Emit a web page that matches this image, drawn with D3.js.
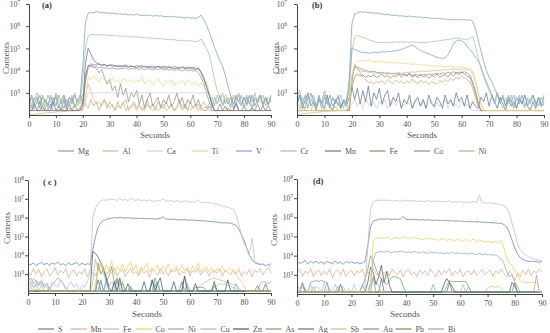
<!DOCTYPE html>
<html>
<head>
<meta charset="utf-8">
<script src="https://cdn.jsdelivr.net/npm/d3@7"></script>
<style>
body{margin:0;background:#fff;}
svg{display:block;font-family:"Liberation Serif","Times New Roman",serif;}
</style>
</head>
<body>
<svg id="chart" width="550" height="333"></svg>
<script>
'use strict'

// log10 of the counts, one value per second (0..90 s)
var aMg = [2.4,2.9,2.5,2.8,2.3,2.9,2.6,2.4,2.9,2.5,
	2.8,2.3,2.7,2.9,2.4,2.8,2.5,2.9,2.6,2.8,
	4.2,6.2,6.58,6.62,6.6,6.66,6.63,6.6,6.62,6.58,
	6.6,6.56,6.58,6.54,6.56,6.53,6.55,6.5,6.53,6.5,
	6.54,6.5,6.48,6.51,6.47,6.5,6.45,6.48,6.46,6.47,
	6.44,6.43,6.45,6.42,6.44,6.4,6.42,6.39,6.37,6.4,
	6.36,6.38,6.35,6.4,6.5,6.3,6.05,5.75,5.4,5.05,
	4.75,4.45,4.2,3.8,3.3,2.9,2.5,2.8,2.6,2.9,
	2.3,2.8,2.5,2.9,2.4,2.7,2.9,2.5,2.8,2.4,
	2.9];
var aCr = [2.6,2.3,2.8,2.5,2.9,2.4,2.7,2.3,2.8,2.6,
	2.9,2.5,2.3,2.8,2.6,2.4,2.9,2.3,2.7,2.5,
	3.6,5.0,5.55,5.62,5.64,5.6,5.63,5.6,5.62,5.58,
	5.6,5.57,5.59,5.55,5.57,5.54,5.56,5.52,5.55,5.51,
	5.53,5.5,5.48,5.5,5.46,5.48,5.45,5.47,5.43,5.45,
	5.42,5.4,5.42,5.38,5.4,5.36,5.37,5.34,5.36,5.33,
	5.35,5.32,5.3,5.33,5.42,5.2,5.0,4.75,4.2,3.6,
	3.1,2.8,2.5,2.9,2.6,2.3,2.8,2.5,2.9,2.4,
	2.7,2.9,2.5,2.3,2.8,2.6,2.9,2.4,2.7,2.5,
	2.8];
var aMn = [2.2,2.2,2.5,2.2,2.2,2.4,2.2,2.2,2.2,2.6,
	2.2,2.2,2.3,2.2,2.2,2.5,2.2,2.2,2.2,2.3,
	2.6,4.3,5.0,4.75,4.5,4.35,4.3,4.25,4.28,4.22,
	4.25,4.2,4.23,4.18,4.22,4.19,4.2,4.15,4.2,4.17,
	4.14,4.18,4.15,4.2,4.13,4.16,4.12,4.15,4.18,4.12,
	4.14,4.1,4.15,4.12,4.08,4.12,4.1,4.14,4.08,4.1,
	4.12,4.08,4.05,4.1,3.9,3.6,3.3,2.9,2.5,2.2,
	2.2,2.2,2.2,2.4,2.2,2.2,2.2,2.5,2.2,2.2,
	2.2,2.2,2.2,2.3,2.2,2.2,2.2,2.4,2.2,2.2,
	2.2];
var aFe = [2.2,2.2,2.2,2.2,2.2,2.2,2.2,2.2,2.2,2.2,
	2.2,2.2,2.2,2.2,2.2,2.2,2.2,2.2,2.2,2.2,
	2.4,3.8,4.2,4.3,4.28,4.25,4.3,4.22,4.27,4.2,
	4.24,4.26,4.2,4.23,4.18,4.22,4.25,4.19,4.21,4.17,
	4.22,4.2,4.23,4.16,4.2,4.18,4.22,4.15,4.19,4.17,
	4.2,4.16,4.19,4.14,4.18,4.15,4.12,4.17,4.14,4.16,
	4.13,4.15,4.1,4.12,3.95,3.7,3.3,2.9,2.5,2.2,
	2.2,2.2,2.2,2.2,2.2,2.2,2.2,2.2,2.2,2.2,
	2.2,2.2,2.2,2.2,2.2,2.2,2.2,2.2,2.2,2.2,
	2.2];
var aV = [2.5,2.8,2.3,2.6,2.9,2.4,2.7,2.5,2.3,2.8,
	2.4,2.9,2.6,2.3,2.7,2.5,2.8,2.4,2.6,2.9,
	2.5,3.6,4.25,4.2,4.15,4.18,4.12,4.15,4.1,4.13,
	4.08,4.12,4.1,4.06,4.11,4.08,4.13,4.05,4.1,4.07,
	4.12,4.06,4.09,4.04,4.1,4.07,4.03,4.08,4.05,4.1,
	4.04,4.07,4.02,4.06,4.0,4.05,4.02,3.98,4.04,4.0,
	4.03,3.98,4.0,3.9,3.7,3.4,3.0,2.6,2.3,2.8,
	2.5,2.9,2.4,2.7,2.5,2.8,2.3,2.9,2.6,2.4,
	2.8,2.5,2.9,2.3,2.7,2.6,2.9,2.4,2.8,2.5,
	2.7];
var aCo = [2.2,2.4,2.2,2.2,2.6,2.2,2.3,2.2,2.5,2.2,
	2.2,2.4,2.2,2.7,2.2,2.3,2.2,2.5,2.2,2.2,
	2.4,3.5,4.1,4.25,4.2,4.1,3.9,4.05,3.7,3.4,
	3.6,3.1,3.3,2.8,3.4,2.9,3.2,2.6,3.0,2.8,
	3.1,2.5,2.9,2.3,2.7,3.0,2.4,2.6,2.8,2.3,
	2.7,2.5,2.9,2.4,2.6,3.0,2.5,2.8,2.3,2.7,
	2.5,2.9,2.4,2.7,2.3,2.2,2.2,2.4,2.2,2.2,
	2.2,2.5,2.2,2.2,2.3,2.2,2.2,2.6,2.2,2.2,
	2.4,2.2,2.2,2.3,2.2,2.5,2.2,2.2,2.2,2.4,
	2.2];
var aTi = [2.2,2.2,2.2,2.2,2.2,2.2,2.2,2.2,2.2,2.2,
	2.2,2.2,2.2,2.2,2.2,2.2,2.2,2.2,2.2,2.2,
	2.2,2.8,3.7,3.6,3.75,3.65,3.5,3.7,3.6,3.55,
	3.45,3.7,3.5,3.6,3.4,3.65,3.55,3.5,3.6,3.45,
	3.55,3.5,3.75,3.4,3.55,3.6,3.35,3.5,3.65,3.4,
	3.3,3.55,3.45,3.6,3.3,3.5,3.4,3.55,3.35,3.6,
	3.45,3.4,3.5,3.3,3.45,3.3,3.5,3.1,2.4,2.2,
	2.2,2.2,2.2,2.2,2.2,2.2,2.2,2.2,2.2,2.2,
	2.2,2.2,2.2,2.2,2.2,2.2,2.2,2.2,2.2,2.2,
	2.2];
var aCa = [2.2,2.2,2.2,2.2,2.2,2.2,2.2,2.2,2.2,2.2,
	2.2,2.2,2.2,2.2,2.2,2.2,2.2,2.2,2.2,2.2,
	2.2,2.6,3.0,3.0,2.99,3.0,3.01,3.0,2.99,3.0,
	3.0,2.99,3.0,3.01,3.0,3.0,2.99,3.0,3.0,3.01,
	3.0,2.99,3.0,3.0,3.01,3.0,2.99,3.0,3.0,3.0,
	3.01,3.0,2.99,3.0,3.0,3.0,3.01,3.0,2.99,3.0,
	3.0,3.0,2.99,3.0,3.0,3.01,3.0,2.99,2.6,2.2,
	2.2,2.2,2.2,2.2,2.2,2.2,2.2,2.2,2.2,2.2,
	2.2,2.2,2.2,2.2,2.2,2.2,2.2,2.2,2.2,2.2,
	2.2];
var aAl = [2.0,2.02,2.03,2.05,2.06,2.07,2.09,2.1,2.11,2.12,
	2.13,2.14,2.15,2.16,2.17,2.18,2.19,2.2,2.21,2.22,
	2.25,2.9,3.4,3.1,2.7,2.5,2.6,2.4,2.7,2.5,
	2.3,2.5,2.2,2.4,2.3,2.6,2.2,2.4,2.3,2.5,
	2.2,2.4,2.3,2.2,2.5,2.3,2.2,2.4,2.2,2.3,
	2.5,2.2,2.3,2.4,2.2,2.3,2.5,2.2,2.4,2.3,
	2.2,2.4,2.3,2.5,2.2,2.3,2.4,2.2,2.2,2.2,
	2.2,2.2,2.2,2.2,2.2,2.2,2.2,2.2,2.2,2.2,
	2.2,2.2,2.2,2.2,2.2,2.2,2.2,2.2,2.2,2.2,
	2.2];
var aNi = [2.9,2.4,2.7,3.0,2.5,2.8,2.3,2.9,2.6,2.4,
	3.0,2.7,2.5,2.9,2.3,2.8,2.6,3.0,2.4,2.7,
	2.9,2.5,2.3,2.7,2.4,2.6,2.2,2.5,2.7,2.3,
	2.6,2.4,2.2,2.6,2.3,2.5,2.7,2.2,2.4,2.6,
	2.3,2.5,2.2,2.4,2.7,2.3,2.5,2.2,2.6,2.4,
	2.3,2.6,2.3,2.5,2.2,2.4,2.7,2.3,2.5,2.2,
	2.6,2.3,2.5,2.2,2.4,2.6,2.3,2.5,2.8,2.4,
	2.9,2.6,3.0,2.5,2.8,2.4,2.9,2.7,3.0,2.5,
	2.8,2.4,2.9,2.6,3.0,2.5,2.7,2.9,2.4,2.8,
	2.6];

var bMg = [2.4,2.9,2.5,2.3,2.8,2.6,2.9,2.4,2.7,2.3,
	2.8,2.5,2.9,2.4,2.6,2.8,2.3,2.7,2.5,3.6,
	6.1,6.55,6.62,6.65,6.63,6.64,6.6,6.62,6.58,6.6,
	6.56,6.55,6.52,6.54,6.5,6.48,6.5,6.46,6.47,6.45,
	6.44,6.46,6.42,6.43,6.4,6.42,6.38,6.4,6.37,6.36,
	6.35,6.36,6.33,6.34,6.32,6.3,6.31,6.28,6.3,6.29,
	6.28,6.3,6.27,6.29,6.22,5.9,5.4,4.9,4.4,4.0,
	3.7,3.5,3.2,2.9,2.6,2.9,2.4,2.8,2.6,2.9,
	2.3,2.8,2.5,2.9,2.4,2.7,2.9,2.5,2.8,2.4,
	2.9];
var bCr = [2.6,2.3,2.8,2.5,2.9,2.4,2.7,2.3,2.8,2.6,
	2.9,2.5,2.3,2.8,2.6,2.4,2.9,2.3,2.7,3.0,
	4.8,5.5,5.6,5.55,5.5,5.45,5.4,5.35,5.3,5.28,
	5.26,5.27,5.25,5.28,5.26,5.3,5.27,5.29,5.3,5.28,
	5.3,5.27,5.3,5.28,5.26,5.25,5.27,5.25,5.28,5.3,
	5.32,5.33,5.35,5.37,5.38,5.4,5.42,5.45,5.47,5.45,
	5.43,5.4,5.38,5.45,5.55,5.1,4.6,4.1,3.7,3.4,
	3.1,2.8,2.5,2.9,2.6,2.3,2.8,2.5,2.9,2.4,
	2.7,2.9,2.5,2.3,2.8,2.6,2.9,2.4,2.7,2.5,
	2.8];
var bV = [2.8,3.1,2.5,2.9,2.3,3.0,2.6,2.4,2.9,2.5,
	3.1,2.7,2.3,2.8,2.5,2.9,2.4,2.7,2.6,3.2,
	5.05,4.95,4.9,4.85,4.8,4.82,4.78,4.8,4.83,4.8,
	4.82,4.85,4.83,4.87,4.85,4.88,4.9,4.92,4.95,5.0,
	5.05,5.1,5.15,5.08,4.98,4.9,4.85,4.8,4.75,4.7,
	4.65,4.6,4.57,4.55,4.58,4.7,4.95,5.2,5.35,5.38,
	5.33,5.25,5.1,4.95,4.8,4.6,4.45,4.2,3.8,3.5,
	3.2,2.9,2.6,3.0,2.5,2.8,2.4,2.9,2.6,2.3,
	2.8,2.5,2.9,2.4,2.7,2.5,2.9,2.6,2.4,2.8,
	2.5];
var bTi = [2.2,2.2,2.2,2.2,2.2,2.2,2.2,2.2,2.2,2.2,
	2.2,2.2,2.2,2.2,2.2,2.2,2.2,2.2,2.2,2.5,
	3.8,4.3,4.42,4.45,4.44,4.43,4.45,4.42,4.4,4.41,
	4.4,4.38,4.39,4.37,4.36,4.35,4.36,4.33,4.34,4.32,
	4.31,4.3,4.28,4.3,4.27,4.26,4.25,4.27,4.24,4.22,
	4.2,4.22,4.19,4.2,4.18,4.17,4.19,4.16,4.18,4.15,
	4.16,4.14,4.12,4.1,4.0,3.6,3.0,2.5,2.2,2.2,
	2.2,2.2,2.2,2.2,2.2,2.2,2.2,2.2,2.2,2.2,
	2.2,2.2,2.2,2.2,2.2,2.2,2.2,2.2,2.2,2.2,
	2.2];
var bAl = [2.0,2.03,2.05,2.06,2.08,2.1,2.1,2.12,2.13,2.15,
	2.15,2.17,2.18,2.18,2.2,2.2,2.21,2.22,2.22,2.4,
	3.7,4.15,4.05,4.0,3.95,3.97,3.9,3.93,3.88,3.9,
	3.87,3.9,3.85,3.88,3.9,3.86,3.89,3.92,3.88,3.9,
	3.93,3.9,3.95,3.92,3.96,3.94,3.98,3.95,4.0,3.97,
	4.0,4.02,3.98,4.03,4.05,4.02,4.06,4.08,4.05,4.07,
	4.05,4.08,4.04,4.02,3.9,3.5,3.0,2.5,2.2,2.2,
	2.2,2.2,2.2,2.2,2.2,2.2,2.2,2.2,2.2,2.2,
	2.2,2.2,2.2,2.2,2.2,2.2,2.2,2.2,2.2,2.2,
	2.2];
var bCo = [2.2,2.2,2.2,2.2,2.2,2.2,2.2,2.2,2.2,2.2,
	2.2,2.2,2.2,2.2,2.2,2.2,2.2,2.2,2.2,2.2,
	3.6,4.2,4.15,4.1,4.05,4.0,3.98,3.95,3.97,3.92,
	3.9,3.93,3.88,3.9,3.85,3.87,3.84,3.86,3.82,3.85,
	3.8,3.83,3.78,3.82,3.8,3.78,3.82,3.8,3.85,3.82,
	3.85,3.88,3.84,3.9,3.87,3.92,3.88,3.95,3.9,3.93,
	3.9,3.95,3.88,3.8,3.5,3.1,2.6,2.2,2.2,2.2,
	2.2,2.2,2.2,2.2,2.2,2.2,2.2,2.2,2.2,2.2,
	2.2,2.2,2.2,2.2,2.2,2.2,2.2,2.2,2.2,2.2,
	2.2];
var bFe = [2.2,2.2,2.2,2.2,2.2,2.2,2.2,2.2,2.2,2.2,
	2.2,2.2,2.2,2.2,2.2,2.2,2.2,2.2,2.2,2.2,
	3.3,3.7,3.85,3.75,3.8,3.7,3.78,3.72,3.82,3.68,
	3.75,3.85,3.7,3.8,3.65,3.78,3.72,3.86,3.7,3.82,
	3.75,3.9,3.7,3.8,3.68,3.84,3.72,3.78,3.65,3.8,
	3.72,3.85,3.7,3.78,3.82,3.7,3.88,3.75,3.9,3.8,
	3.95,3.85,3.75,3.7,3.4,3.0,2.5,2.2,2.2,2.2,
	2.2,2.2,2.2,2.2,2.2,2.2,2.2,2.2,2.2,2.2,
	2.2,2.2,2.2,2.2,2.2,2.2,2.2,2.2,2.2,2.2,
	2.2];
var bNi = [2.2,2.2,2.4,2.2,2.2,2.2,2.5,2.2,2.2,2.2,
	2.3,2.2,2.2,2.2,2.4,2.2,2.2,2.2,2.2,2.3,
	3.5,4.3,4.1,3.9,3.7,3.6,3.45,3.5,3.4,3.5,
	3.45,3.55,3.4,3.6,3.5,3.42,3.58,3.45,3.52,3.4,
	3.55,3.45,3.62,3.5,3.4,3.57,3.46,3.52,3.38,3.5,
	3.45,3.4,3.55,3.48,3.6,3.5,3.65,3.55,3.7,3.62,
	3.75,3.68,3.6,3.5,3.2,2.8,2.4,2.2,2.2,2.2,
	2.2,2.2,2.2,2.2,2.2,2.2,2.2,2.2,2.2,2.2,
	2.2,2.2,2.2,2.2,2.2,2.2,2.2,2.2,2.2,2.2,
	2.2];
var bMn = [2.5,2.9,2.3,2.7,3.0,2.4,2.6,2.2,2.8,2.5,
	2.3,2.9,2.4,2.2,2.7,2.5,2.3,2.6,2.4,2.8,
	3.3,2.7,3.2,2.5,3.1,2.6,3.3,2.4,3.0,2.7,
	3.2,2.5,2.9,3.1,2.4,2.8,2.6,3.0,2.3,2.7,
	2.5,2.9,2.3,2.6,2.8,2.4,2.7,2.3,2.9,2.5,
	2.4,2.8,2.6,2.3,2.9,2.5,2.7,2.4,3.0,2.6,
	2.8,2.4,2.9,2.3,2.6,2.4,2.3,2.8,2.6,3.0,
	2.4,2.9,2.6,2.3,2.8,2.5,2.2,2.7,2.4,2.6,
	2.3,2.7,2.5,2.9,2.4,2.2,2.6,2.3,2.8,2.4,
	2.5];
var bCa = [2.2,2.2,2.2,2.2,2.2,2.2,2.2,2.2,2.2,2.2,
	2.2,2.2,2.2,2.2,2.2,2.2,2.2,2.2,2.2,2.2,
	2.5,2.7,2.4,2.6,2.3,2.7,2.5,2.4,2.6,2.3,
	2.6,2.4,2.7,2.3,2.5,2.6,2.4,2.7,2.3,2.5,
	2.4,2.6,2.3,2.7,2.5,2.4,2.6,2.3,2.5,2.7,
	2.3,2.6,2.4,2.5,2.7,2.3,2.6,2.4,2.5,2.3,
	2.6,2.4,2.5,2.3,2.2,2.2,2.2,2.2,2.2,2.2,
	2.2,2.2,2.2,2.2,2.2,2.2,2.2,2.2,2.2,2.2,
	2.2,2.2,2.2,2.2,2.2,2.2,2.2,2.2,2.2,2.2,
	2.2];

var cFe = [2.5,2.3,2.8,2.6,2.4,2.7,2.3,2.5,2.1,2.6,
	2.4,2.3,2.7,2.5,2.1,2.4,2.6,2.3,2.5,2.1,
	2.4,2.3,2.6,3.0,6.0,6.5,6.8,6.9,6.95,6.92,
	7.0,6.95,6.98,6.9,7.02,6.93,6.97,6.9,7.03,6.95,
	6.92,6.96,6.9,6.94,6.88,6.95,6.9,6.85,6.93,6.88,
	7.0,6.9,6.87,6.92,6.85,6.9,6.86,6.83,6.9,6.85,
	6.82,6.86,6.8,6.95,6.82,6.78,6.83,6.76,6.8,6.74,
	6.72,6.68,6.62,6.58,6.55,6.5,6.45,6.2,5.7,5.1,
	4.6,4.4,4.1,4.9,3.7,3.6,3.55,3.5,3.45,3.5,
	3.4];
var cS = [3.55,3.5,3.6,3.45,3.55,3.62,3.5,3.58,3.48,3.6,
	3.52,3.65,3.5,3.56,3.45,3.6,3.5,3.55,3.62,3.48,
	3.58,3.5,3.55,3.52,4.3,5.0,5.5,5.75,5.85,5.9,
	5.95,5.97,6.0,5.98,6.02,5.99,5.97,6.0,5.98,5.96,
	5.98,5.95,5.97,5.94,5.96,5.93,5.95,5.92,5.94,5.96,
	6.05,5.92,5.93,5.9,5.92,5.89,5.9,5.88,5.9,5.87,
	5.88,5.86,5.87,5.84,5.85,5.82,5.83,5.8,5.8,5.78,
	5.76,5.75,5.72,5.74,5.7,5.72,5.65,5.6,5.4,5.1,
	4.8,4.4,4.0,3.75,3.6,3.55,3.5,3.55,3.45,3.5,
	3.55];
var cMn = [3.2,2.9,3.3,3.0,3.25,2.85,3.15,3.3,2.9,3.1,
	3.35,2.95,3.2,3.05,3.3,2.8,3.1,3.25,2.9,3.15,
	3.0,3.3,2.85,3.2,3.1,2.9,3.25,3.0,3.35,2.95,
	3.2,3.05,3.3,2.9,3.15,3.25,2.85,3.1,3.3,3.0,
	3.15,2.9,3.3,3.05,3.2,2.85,3.25,3.1,2.95,3.3,
	3.0,3.2,2.9,3.25,3.1,3.3,2.95,3.15,3.05,3.3,
	2.9,3.2,3.1,3.3,2.95,3.15,3.25,2.9,3.1,3.2,
	3.05,3.3,2.9,3.2,3.1,2.95,3.25,3.0,3.3,2.9,
	3.15,3.0,3.25,2.85,3.2,3.1,3.3,2.95,3.2,3.35,
	3.05];
var cCo = [2.1,2.1,2.1,2.2,2.1,2.1,2.1,2.1,2.1,2.1,
	2.1,2.1,2.1,2.1,2.1,2.1,2.1,2.1,2.1,2.1,
	2.1,2.1,2.1,2.1,2.1,2.5,3.3,3.6,3.1,3.5,
	3.2,3.7,3.0,3.4,3.2,3.55,3.1,3.45,3.65,3.2,
	3.5,3.0,3.4,3.25,3.6,3.1,3.35,3.2,3.5,3.05,
	3.4,3.25,3.55,3.1,3.3,3.45,3.15,3.5,3.2,3.35,
	3.05,3.45,3.2,3.6,3.1,3.3,3.4,3.15,3.35,3.05,
	3.3,3.2,3.45,3.1,3.25,3.3,3.1,3.0,2.8,2.6,
	2.4,2.1,2.1,2.1,2.1,2.1,2.1,2.1,2.1,2.1,
	2.1];
var cZn = [2.1,2.1,2.1,2.1,2.1,2.1,2.1,2.1,2.1,2.1,
	2.1,2.1,2.1,2.1,2.1,2.1,2.1,2.1,2.1,2.1,
	2.1,2.1,2.1,2.1,4.2,4.1,3.9,3.6,3.3,2.8,
	2.3,2.1,2.6,2.1,2.8,2.1,2.1,2.5,2.1,2.1,
	2.1,2.1,2.1,2.6,2.1,2.1,2.7,2.1,2.5,2.8,
	2.1,2.1,2.1,2.1,2.6,2.1,2.1,2.1,2.9,2.1,
	2.1,2.1,2.5,2.1,2.1,2.1,2.1,2.1,2.1,2.6,
	2.1,2.1,2.1,2.1,2.7,2.1,2.1,2.1,2.1,2.1,
	2.1,2.1,2.1,2.1,2.1,2.1,2.1,2.1,2.1,2.1,
	2.1];
var cCu = [2.1,2.3,2.1,2.5,2.1,2.4,2.1,2.1,2.3,2.1,
	2.1,2.1,2.1,2.1,2.1,2.1,2.1,2.1,2.1,2.1,
	2.1,2.1,2.1,2.1,2.6,3.8,3.2,3.6,3.0,2.7,
	2.4,2.6,2.3,2.8,2.1,2.5,2.1,2.1,2.4,2.1,
	2.1,2.1,2.1,2.1,2.1,2.1,2.1,2.4,2.1,2.1,
	2.1,2.1,2.1,2.1,2.1,2.1,2.1,2.1,2.1,2.1,
	2.1,2.1,2.1,2.3,2.4,2.5,2.6,2.7,2.75,2.8,
	2.75,2.7,2.65,2.6,2.55,2.5,2.45,2.4,2.3,2.1,
	2.1,2.1,2.1,2.1,2.1,2.1,2.1,2.1,2.1,2.1,
	2.1];
var cAs = [2.1,2.1,2.1,2.1,2.1,2.1,2.1,2.1,2.1,2.1,
	2.1,2.1,2.1,2.1,2.1,2.1,2.1,2.1,2.1,2.1,
	2.1,2.1,2.1,2.1,2.1,2.1,3.6,3.0,3.3,2.6,
	2.9,3.4,2.5,2.8,2.4,2.6,2.1,2.1,2.3,2.1,
	2.1,2.1,2.1,2.1,2.1,2.1,2.6,2.5,2.1,2.1,
	2.1,2.1,2.1,2.1,2.1,2.1,2.1,2.1,2.1,2.1,
	2.1,2.1,2.1,2.1,2.1,2.1,2.1,2.1,2.1,2.4,
	2.1,2.1,2.1,2.1,2.1,2.1,2.1,2.1,2.1,2.1,
	2.1,2.1,2.1,2.1,2.1,2.1,2.1,2.1,2.1,2.1,
	2.1];
var cNi = [2.4,2.6,2.3,2.5,2.6,2.4,2.5,2.3,2.1,2.1,
	2.1,2.1,2.1,2.1,2.1,2.1,2.1,2.1,2.1,2.1,
	2.1,2.1,2.1,2.1,2.1,2.1,2.1,2.6,2.1,2.7,
	2.1,2.1,2.5,2.1,2.1,2.1,2.1,2.1,2.1,2.1,
	2.1,2.1,2.1,2.1,2.1,2.1,2.7,2.3,2.6,2.1,
	2.1,2.1,2.1,2.1,2.1,2.1,2.1,2.1,2.1,2.5,
	2.1,2.1,2.1,2.1,2.1,2.1,2.1,2.1,2.1,2.1,
	2.1,2.1,2.1,2.1,2.1,2.1,2.1,2.5,2.1,2.1,
	2.1,2.1,2.1,2.1,2.1,2.1,2.1,2.1,2.1,2.1,
	2.1];
var cAg = [2.1,2.1,2.1,2.1,2.1,2.1,2.1,2.1,2.1,2.1,
	2.1,2.1,2.1,2.1,2.1,2.1,2.1,2.1,2.1,2.1,
	2.1,2.1,2.1,2.1,2.1,2.1,2.7,2.1,2.1,2.1,
	2.1,2.1,2.1,2.7,2.1,2.1,2.1,2.1,2.1,2.1,
	2.1,2.1,2.1,2.1,2.1,2.1,2.1,2.1,2.1,2.1,
	2.1,2.1,2.1,2.1,2.1,2.1,2.1,2.6,2.1,2.1,
	2.1,2.1,2.1,2.1,2.1,2.1,2.1,2.1,2.1,2.1,
	2.1,2.1,2.1,2.1,2.1,2.1,2.1,2.1,2.1,2.1,
	2.1,2.1,2.1,2.1,2.1,2.1,2.1,2.1,2.5,2.1,
	2.1];
var cSb = [2.1,2.1,2.1,2.1,2.1,2.1,2.1,2.1,2.1,2.1,
	2.1,2.1,2.1,2.1,2.1,2.1,2.1,2.1,2.1,2.1,
	2.1,2.1,2.1,2.1,2.1,2.1,2.1,2.1,2.1,2.1,
	2.1,2.1,2.1,2.1,2.1,2.1,2.1,2.1,2.1,2.1,
	2.1,2.1,2.1,2.1,2.1,2.1,2.1,2.1,2.1,2.1,
	2.1,2.1,2.1,2.1,2.1,2.1,2.1,2.1,2.1,2.1,
	2.1,2.1,2.1,2.1,2.1,2.1,2.1,2.1,2.2,2.3,
	2.4,2.5,2.45,2.5,2.4,2.35,2.3,2.2,2.1,2.1,
	2.1,2.1,2.1,2.1,2.1,2.1,2.1,2.1,2.1,2.1,
	2.1];
var cAu = [2.1,2.1,2.1,2.1,2.1,2.1,2.1,2.1,2.1,2.1,
	2.1,2.1,2.1,2.1,2.1,2.1,2.1,2.1,2.1,2.1,
	2.1,2.1,2.1,2.1,2.1,2.1,2.1,2.7,2.1,2.6,
	2.1,2.1,2.1,2.1,2.1,2.1,2.1,2.1,2.1,2.1,
	2.1,2.1,2.1,2.1,2.1,2.1,2.1,2.8,2.4,2.1,
	2.1,2.1,2.1,2.1,2.1,2.1,2.1,2.1,2.9,2.3,
	2.1,2.1,2.1,2.1,2.1,2.1,2.1,2.1,2.1,2.1,
	2.1,2.1,2.1,2.1,2.1,2.1,2.1,2.1,2.1,2.1,
	2.1,2.1,2.1,2.1,2.1,2.1,2.1,2.1,2.1,2.1,
	2.1];
var cPb = [2.1,2.1,2.1,2.1,2.1,2.1,2.1,2.1,2.1,2.1,
	2.1,2.1,2.1,2.1,2.1,2.1,2.1,2.1,2.1,2.1,
	2.1,2.1,2.1,2.1,2.1,2.1,2.1,2.1,2.1,2.1,
	2.1,2.1,2.1,2.1,2.1,2.1,2.1,2.1,2.1,2.1,
	2.1,2.1,2.1,2.1,2.1,2.1,2.1,2.1,2.1,2.1,
	2.1,2.1,2.1,2.1,2.1,2.1,2.1,2.1,2.1,2.1,
	2.1,2.1,2.3,2.3,2.3,2.3,2.1,2.1,2.1,2.1,
	2.1,2.1,2.1,2.1,2.1,2.1,2.1,2.1,2.1,2.1,
	2.1,2.1,2.1,2.1,2.1,2.4,2.1,2.1,2.1,2.1,
	2.1];
var cBi = [2.6,2.8,2.5,2.7,2.4,2.6,2.3,2.5,2.2,2.4,
	2.6,2.8,2.7,2.5,2.3,2.1,2.1,2.1,2.1,2.1,
	2.1,2.1,2.1,2.1,2.1,2.1,2.1,2.1,2.1,2.1,
	2.1,2.1,2.1,2.1,2.1,2.1,2.1,2.1,2.1,2.1,
	2.1,2.1,2.1,2.1,2.1,2.1,2.1,2.1,2.1,2.1,
	2.1,2.1,2.1,2.1,2.1,2.1,2.1,2.1,2.1,2.1,
	2.1,2.1,2.1,2.1,2.1,2.1,2.1,2.1,2.1,2.1,
	2.1,2.1,2.1,2.1,2.1,2.1,2.1,2.1,2.1,2.1,
	2.1,2.1,2.1,2.1,2.1,2.1,2.5,2.6,2.6,2.5,
	2.6];

var dFe = [2.4,2.1,2.6,2.3,2.1,2.5,2.1,2.4,2.3,2.1,
	2.6,2.1,2.3,2.1,2.5,2.1,2.1,2.4,2.1,2.3,
	2.1,2.5,2.1,2.1,2.4,2.3,4.5,6.4,6.82,6.87,
	6.9,6.88,6.92,6.86,6.9,6.84,6.89,6.86,6.83,6.91,
	6.86,6.88,6.84,6.9,6.82,6.86,6.84,6.81,6.88,6.83,
	6.86,6.82,6.85,6.8,6.84,6.81,6.86,6.78,6.83,6.8,
	6.82,6.78,6.81,6.76,6.8,6.84,6.76,7.15,6.78,6.76,
	6.74,6.76,6.71,6.73,6.68,6.65,6.6,6.5,6.2,5.7,
	5.2,4.6,4.3,4.15,4.05,3.95,3.88,3.82,3.8,3.76,
	3.73];
var dS = [3.7,3.6,3.65,3.75,3.58,3.7,3.62,3.72,3.6,3.68,
	3.55,3.7,3.64,3.58,3.72,3.6,3.66,3.55,3.7,3.62,
	3.68,3.6,3.65,3.58,3.62,3.7,4.5,5.5,5.8,5.85,
	5.9,5.92,5.9,5.93,5.9,5.88,5.91,5.89,5.92,6.05,
	5.9,5.88,5.9,5.87,5.89,5.86,5.88,5.85,5.87,5.86,
	5.84,5.86,5.83,5.85,5.82,5.84,5.81,5.83,5.8,5.82,
	5.79,5.8,5.78,5.79,5.76,5.78,5.75,5.77,5.74,5.75,
	5.72,5.73,5.7,5.72,5.68,5.7,5.62,5.5,5.2,4.8,
	4.4,4.1,3.9,3.8,3.75,3.7,3.72,3.68,3.7,3.65,
	3.7];
var dMn = [3.1,3.3,2.9,3.2,3.05,3.35,2.9,3.15,3.25,2.95,
	3.2,3.0,3.3,2.85,3.15,3.25,3.0,3.3,2.9,3.1,
	3.25,2.95,3.2,3.1,3.3,2.9,3.15,3.0,3.3,3.1,
	2.9,3.25,3.05,3.2,2.95,3.3,3.1,3.0,3.25,2.9,
	3.2,3.3,3.0,3.15,2.9,3.25,3.05,3.2,2.95,3.3,
	3.1,2.9,3.25,3.0,3.2,3.1,3.35,2.95,3.2,3.05,
	3.3,2.9,3.15,3.2,3.0,3.25,2.95,3.1,3.3,3.0,
	3.15,3.25,2.9,3.2,3.05,3.3,3.1,2.9,3.2,3.0,
	2.7,3.1,2.9,3.25,3.0,3.3,2.95,3.2,3.1,3.3,
	3.15];
var dCo = [2.1,2.1,2.1,2.1,2.1,2.1,2.1,2.1,2.1,2.1,
	2.1,2.1,2.1,2.1,2.1,2.1,2.1,2.1,2.1,2.1,
	2.1,2.1,2.1,2.1,2.1,2.1,2.1,2.4,4.8,4.95,
	4.9,4.95,4.88,4.97,4.9,4.85,4.95,4.92,4.88,5.0,
	4.9,4.95,4.85,5.0,4.88,4.92,4.82,4.9,4.86,4.93,
	4.84,4.88,4.8,4.85,4.9,4.78,4.86,4.82,4.75,4.88,
	4.8,4.76,4.85,4.72,4.8,4.88,4.7,4.82,4.78,4.7,
	4.75,4.72,4.68,4.78,4.65,4.8,4.4,3.9,3.6,3.5,
	3.2,3.0,2.7,2.6,2.6,2.6,2.6,2.6,2.6,2.1,
	2.1];
var dNi = [2.1,2.1,2.5,2.1,2.1,2.1,2.4,2.1,2.1,2.1,
	2.1,2.6,2.1,2.1,2.1,2.4,2.1,2.1,2.1,2.1,
	2.1,2.1,2.1,2.1,2.5,2.1,2.1,2.6,3.8,4.15,
	4.2,4.22,4.18,4.25,4.2,4.15,4.22,4.18,4.24,4.2,
	4.17,4.2,4.15,4.22,4.18,4.14,4.2,4.16,4.12,4.2,
	4.15,4.18,4.12,4.16,4.1,4.15,4.12,4.18,4.1,4.14,
	4.12,4.1,4.15,4.08,4.12,4.1,4.06,4.12,4.05,4.1,
	4.04,4.06,4.02,4.05,3.95,3.85,3.6,3.2,2.9,3.0,
	2.6,2.4,2.1,2.1,2.1,2.1,2.1,2.1,2.1,2.1,
	2.1];
var dZn = [2.1,2.1,2.6,2.1,2.1,2.1,2.1,2.1,2.1,2.1,
	2.1,2.1,2.1,2.1,2.1,2.1,2.5,2.1,2.1,2.1,
	2.1,2.1,2.1,2.1,2.1,2.1,2.6,3.4,3.1,2.5,
	2.9,3.5,2.6,3.2,2.4,2.1,2.1,2.1,2.1,2.1,
	2.1,2.1,2.1,2.1,2.1,2.1,2.1,2.1,2.1,2.1,
	2.1,2.1,2.1,2.1,2.5,2.8,2.6,2.4,2.1,2.1,
	2.1,2.1,2.1,2.1,2.1,2.1,2.1,2.1,2.1,2.1,
	2.1,2.1,2.1,2.1,2.1,2.1,2.1,2.1,2.1,2.6,
	2.4,2.1,2.1,2.1,2.1,2.1,2.1,2.1,2.1,2.1,
	2.1];
var dAs = [2.1,2.1,2.1,2.1,2.1,2.1,2.1,2.1,2.1,2.1,
	2.1,2.1,2.1,2.1,2.1,2.1,2.1,2.1,2.1,2.1,
	2.1,2.1,2.1,2.1,2.4,2.8,3.3,4.0,3.7,3.3,
	3.0,2.8,2.6,2.5,2.7,2.9,2.9,2.85,2.8,2.4,
	2.1,2.1,2.1,2.1,2.1,2.1,2.1,2.1,2.1,2.1,
	2.1,2.1,2.1,2.1,2.1,2.4,2.7,2.65,2.65,2.65,
	2.65,2.65,2.65,2.4,2.1,2.1,2.1,2.1,2.1,2.1,
	2.1,2.1,2.1,2.1,2.1,2.1,2.1,2.1,2.1,2.1,
	2.1,2.1,2.1,2.1,2.1,2.1,2.1,2.1,2.1,2.1,
	2.1];
var dCu = [2.1,2.1,2.1,2.1,2.1,2.1,2.1,2.1,2.1,2.1,
	2.1,2.1,2.1,2.1,2.1,2.1,2.1,2.1,2.1,2.1,
	2.1,2.1,2.1,2.1,2.1,2.1,2.1,2.5,2.9,2.6,
	2.4,2.1,2.1,2.1,2.1,2.1,2.1,2.1,2.1,2.1,
	2.1,2.1,2.1,2.1,2.1,2.1,2.1,2.1,2.1,2.1,
	2.1,2.1,2.1,2.1,2.1,2.1,2.1,2.1,2.1,2.1,
	2.1,2.5,2.1,2.4,2.1,2.1,2.1,2.1,2.1,2.1,
	2.1,2.1,2.1,2.1,2.1,2.1,2.1,2.1,2.1,2.1,
	2.1,2.1,2.1,2.1,2.1,2.1,2.1,2.1,2.1,2.1,
	2.1];
var dAg = [2.1,2.1,2.1,2.1,2.1,2.1,2.1,2.1,2.1,2.1,
	2.1,2.1,2.1,2.1,2.1,2.1,2.1,2.1,2.1,2.1,
	2.1,2.1,2.1,2.1,2.1,2.1,2.1,2.1,2.1,2.1,
	2.1,2.8,2.1,2.1,2.1,2.1,2.1,2.1,2.1,2.1,
	2.1,2.1,2.1,2.1,2.1,2.1,2.1,2.1,2.1,2.1,
	2.1,2.1,2.1,2.1,2.1,2.1,2.6,2.1,2.1,2.1,
	2.1,2.1,2.1,2.1,2.1,2.1,2.1,2.1,2.1,2.1,
	2.1,2.1,2.1,2.1,2.1,2.1,2.1,2.1,2.1,2.1,
	2.1,2.1,2.1,2.1,2.1,2.1,2.1,2.1,2.1,2.1,
	2.1];
var dSb = [2.1,2.1,2.1,2.1,2.1,2.1,2.1,2.1,2.1,2.1,
	2.1,2.1,2.1,2.1,2.1,2.1,2.1,2.1,2.1,2.1,
	2.1,2.1,2.1,2.1,2.1,2.1,2.1,2.1,2.1,2.1,
	2.1,2.1,2.1,2.1,2.1,2.1,2.1,2.1,2.1,2.1,
	2.1,2.1,2.1,2.1,2.1,2.1,2.1,2.1,2.1,2.1,
	2.1,2.1,2.1,2.1,2.1,2.1,2.1,2.1,2.1,2.1,
	2.1,2.1,2.1,2.1,2.1,2.1,2.1,2.1,2.1,2.1,
	2.3,2.4,2.4,2.35,2.4,2.3,2.1,2.1,2.1,2.1,
	2.1,2.1,2.1,2.1,2.1,2.1,2.1,2.1,2.1,2.1,
	2.1];
var dAu = [2.1,2.1,2.1,2.1,2.1,2.6,2.65,2.7,2.65,2.7,
	2.65,2.6,2.1,2.1,2.1,2.1,2.1,2.1,2.1,2.1,
	2.1,2.1,2.1,2.1,2.1,2.1,2.1,2.1,2.9,2.1,
	2.1,2.1,2.1,2.1,2.1,2.1,2.1,2.1,2.1,2.1,
	2.1,2.1,2.1,2.1,2.1,2.1,2.1,2.1,2.1,2.1,
	2.1,2.1,2.1,2.1,2.1,2.1,2.1,2.1,2.1,2.1,
	2.1,2.1,2.1,2.1,2.1,2.1,2.1,2.1,2.1,2.1,
	2.1,2.1,2.1,2.1,2.1,2.1,2.1,2.1,2.1,2.1,
	2.1,2.1,2.1,2.1,2.1,2.1,2.1,2.1,2.1,2.1,
	2.1];
var dPb = [2.1,2.1,2.1,2.1,2.1,2.1,2.1,2.1,2.1,2.1,
	2.1,2.1,2.1,2.1,2.1,2.1,2.1,2.1,2.1,2.1,
	2.1,2.1,2.1,2.1,2.1,2.1,2.1,2.1,2.1,2.1,
	2.1,2.1,2.1,2.1,2.1,2.1,2.1,2.1,2.1,2.1,
	2.1,2.1,2.1,2.1,2.1,2.1,2.1,2.1,2.1,2.1,
	2.1,2.1,2.1,2.1,2.1,2.1,2.1,2.1,2.1,2.1,
	2.1,2.1,2.1,2.1,2.1,2.1,2.1,2.1,2.1,2.1,
	2.1,2.1,2.1,2.1,2.1,2.1,2.1,2.1,2.1,2.1,
	2.6,2.1,2.1,2.1,2.1,2.1,2.1,2.1,2.1,2.1,
	2.1];
var dBi = [2.4,2.3,2.4,2.2,2.1,2.1,2.1,2.1,2.1,2.1,
	2.1,2.1,2.1,2.1,2.1,2.1,2.1,2.1,2.1,2.1,
	2.1,2.1,2.1,2.1,2.1,2.1,2.1,2.1,2.1,2.1,
	2.1,2.1,2.1,2.1,2.1,2.1,2.1,2.1,2.1,2.1,
	2.1,2.1,2.1,2.1,2.1,2.1,2.1,2.1,2.1,2.1,
	2.5,2.1,2.1,2.1,2.1,2.1,2.1,2.1,2.1,2.1,
	2.1,2.1,2.1,2.1,2.1,2.1,2.1,2.1,2.1,2.1,
	2.1,2.1,2.1,2.1,2.1,2.1,2.1,2.1,2.1,2.1,
	2.1,2.1,2.1,2.1,2.1,2.1,2.1,2.1,3.0,2.1,
	2.1];

var topNames = ['Mg', 'Al', 'Ca', 'Ti', 'V', 'Cr', 'Mn', 'Fe', 'Co', 'Ni'];
var bottomNames = ['S', 'Mn', 'Fe', 'Co', 'Ni', 'Cu', 'Zn', 'As', 'Ag', 'Sb', 'Au', 'Pb', 'Bi'];
var topExps = [3, 4, 5, 6, 7];
var bottomExps = [3, 4, 5, 6, 7, 8];
var secondTicks = [0, 10, 20, 30, 40, 50, 60, 70, 80, 90];

var topColors = {
	Mg: '#7fa2bb', Al: '#dab88e', Ca: '#cbd0d6', Ti: '#e7da88', V: '#84a0c8',
	Cr: '#a9c29c', Mn: '#68768a', Fe: '#9f8268', Co: '#909090', Ni: '#bbb37c'
};
var bottomColors = {
	S: '#6584a2', Mn: '#dcac92', Fe: '#bcbfc7', Co: '#e6cf66', Ni: '#8aa9c6',
	Cu: '#b2bda8', Zn: '#4a5865', As: '#7aa16b', Ag: '#667664', Sb: '#cec577',
	Au: '#7495ad', Pb: '#818b5a', Bi: '#a0a2b3'
};

var panels = [
	{tag: '(a)', tagX: 42, tagY: 8, left: 29, right: 271, top: 4, bottom: 115, gap: 9,
		exps: topExps, colors: topColors, labelX: 8.5, labelY: 58, secY: 138, secX: 155,
		series: {Mg: aMg, Al: aAl, Ca: aCa, Ti: aTi, V: aV, Cr: aCr, Mn: aMn, Fe: aFe, Co: aCo, Ni: aNi},
		order: ['Ni', 'Co', 'Al', 'Ca', 'Ti', 'V', 'Fe', 'Mn', 'Cr', 'Mg']},
	{tag: '(b)', tagX: 312, tagY: 8, left: 297, right: 544, top: 4, bottom: 115, gap: 10,
		exps: topExps, colors: topColors, labelX: 279, labelY: 58, secY: 138, secX: 422,
		series: {Mg: bMg, Al: bAl, Ca: bCa, Ti: bTi, V: bV, Cr: bCr, Mn: bMn, Fe: bFe, Co: bCo, Ni: bNi},
		order: ['Ca', 'Mn', 'Ni', 'Fe', 'Co', 'Al', 'Ti', 'V', 'Cr', 'Mg']},
	{tag: '( c )', tagX: 43, tagY: 185, left: 28, right: 271, top: 180, bottom: 293, gap: 4,
		exps: bottomExps, colors: bottomColors, labelX: 10, labelY: 228, secY: 317, secX: 147,
		series: {S: cS, Mn: cMn, Fe: cFe, Co: cCo, Ni: cNi, Cu: cCu, Zn: cZn, As: cAs, Ag: cAg, Sb: cSb, Au: cAu, Pb: cPb, Bi: cBi},
		order: ['Bi', 'Pb', 'Sb', 'Ag', 'Au', 'Ni', 'Cu', 'As', 'Zn', 'Mn', 'Co', 'S', 'Fe']},
	{tag: '(d)', tagX: 313, tagY: 184, left: 297, right: 542, top: 179, bottom: 294, gap: 4,
		exps: bottomExps, colors: bottomColors, labelX: 277, labelY: 230, secY: 317, secX: 405,
		series: {S: dS, Mn: dMn, Fe: dFe, Co: dCo, Ni: dNi, Cu: dCu, Zn: dZn, As: dAs, Ag: dAg, Sb: dSb, Au: dAu, Pb: dPb, Bi: dBi},
		order: ['Bi', 'Pb', 'Sb', 'Ag', 'Au', 'Cu', 'As', 'Zn', 'Mn', 'Ni', 'Co', 'S', 'Fe']}
];

function drawPanel(svg, p){
	var x = d3.scaleLinear().domain([0, 90]).range([p.left, p.right]);
	var y = d3.scaleLog().domain([1e2, Math.pow(10, p.exps[p.exps.length - 1])]).range([p.bottom, p.top]);

	var line = d3.line()
		.x(function(d, i){ return x(i); })
		.y(function(d){ return y(Math.pow(10, d)); });

	var plot = svg.append('g');
	p.order.forEach(function(name){
		plot.append('path')
			.attr('d', line(p.series[name]))
			.attr('fill', 'none')
			.attr('stroke', p.colors[name])
			.attr('stroke-width', 0.75)
			.attr('stroke-linejoin', 'round');
	});

	var yAxis = svg.append('g')
		.attr('transform', `translate(${p.left},0)`)
		.call(d3.axisLeft(y)
			.tickValues(p.exps.map(function(e){ return Math.pow(10, e); }))
			.tickSize(3).tickSizeOuter(0).tickFormat(''));
	yAxis.selectAll('.tick text').remove();
	yAxis.selectAll('.tick').append('text')
		.attr('x', -p.gap)
		.attr('dy', '0.35em')
		.attr('text-anchor', 'end')
		.attr('fill', '#555')
		.attr('font-size', 7.5)
		.each(function(v){
			var t = d3.select(this);
			t.append('tspan').text('10');
			t.append('tspan').attr('dy', '-0.55em').attr('font-size', 5.5).text(Math.round(Math.log10(v)));
		});

	var xAxis = svg.append('g')
		.attr('transform', `translate(0,${p.bottom})`)
		.call(d3.axisBottom(x).tickValues(secondTicks).tickSize(3).tickSizeOuter(0));
	xAxis.selectAll('.tick text').attr('fill', '#555').attr('font-size', 8);

	svg.selectAll('.domain, .tick line').attr('stroke', '#444');
	svg.selectAll('g').attr('font-family', null);

	svg.append('text')
		.attr('transform', `translate(${p.labelX},${p.labelY}) rotate(-90)`)
		.attr('text-anchor', 'middle')
		.attr('font-size', 9)
		.attr('fill', '#555')
		.text('Contents');

	svg.append('text')
		.attr('x', p.secX).attr('y', p.secY)
		.attr('text-anchor', 'middle')
		.attr('font-size', 9)
		.attr('fill', '#555')
		.text('Seconds');

	svg.append('text')
		.attr('x', p.tagX).attr('y', p.tagY)
		.attr('font-size', 8.5)
		.attr('font-weight', 'bold')
		.attr('fill', '#333')
		.text(p.tag);
}

function drawLegend(svg, names, colors, x0, step, y){
	names.forEach(function(name, i){
		var lx = x0 + i * step;
		svg.append('line')
			.attr('x1', lx).attr('x2', lx + 16)
			.attr('y1', y).attr('y2', y)
			.attr('stroke', colors[name])
			.attr('stroke-width', 1.2);
		svg.append('text')
			.attr('x', lx + 20).attr('y', y + 3)
			.attr('font-size', 8)
			.attr('fill', '#555')
			.text(name);
	});
}

var svg = d3.select('#chart');
panels.forEach(function(p){ drawPanel(svg, p); });
drawLegend(svg, topNames, topColors, 58, 44.5, 151);
drawLegend(svg, bottomNames, bottomColors, 38, 32.5, 329);
</script>
</body>
</html>
